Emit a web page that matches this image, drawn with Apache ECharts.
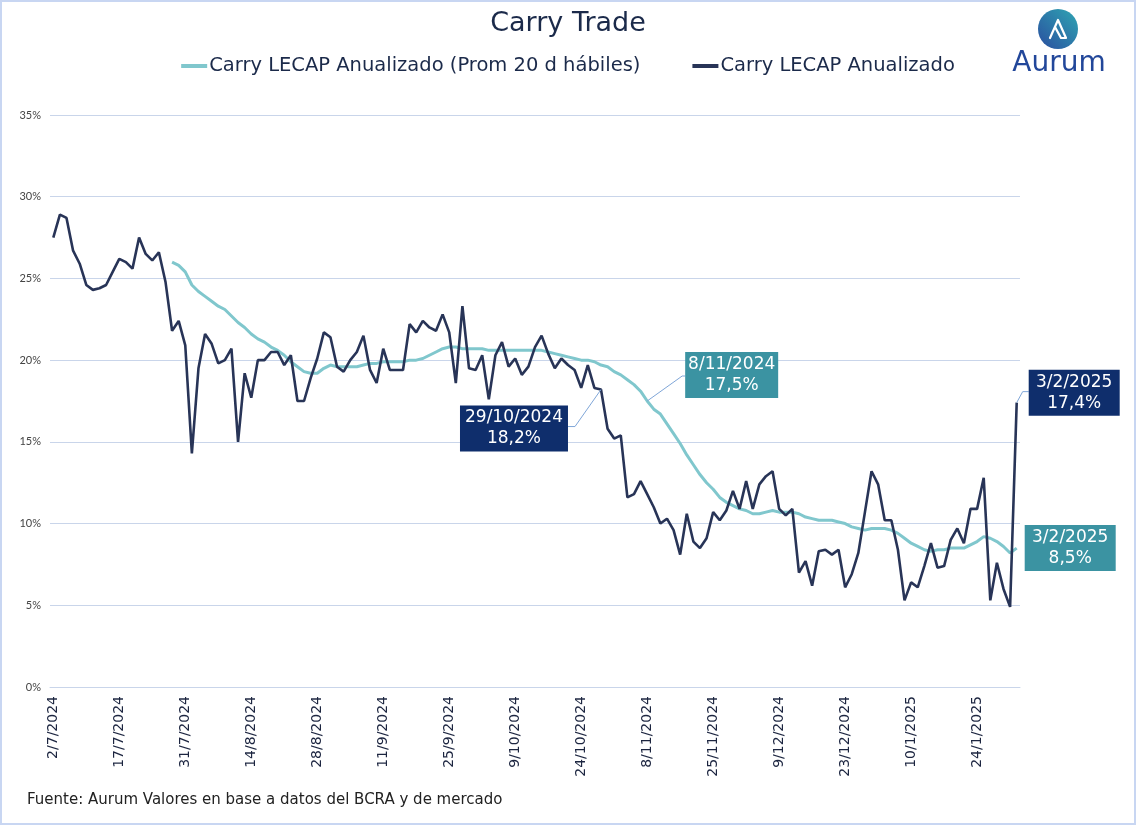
<!DOCTYPE html>
<html>
<head>
<meta charset="utf-8">
<script src="https://cdn.jsdelivr.net/npm/echarts@6/dist/echarts.min.js"></script>
<style>
html,body{margin:0;padding:0;background:#fff;}
#chart{width:1136px;height:825px;}
</style>
</head>
<body>
<div id="chart"></div>
<script>
// ---- data ----
const dates = [
 "2/7/2024","3/7/2024","4/7/2024","5/7/2024","8/7/2024","10/7/2024","11/7/2024","12/7/2024","15/7/2024","16/7/2024",
 "17/7/2024","18/7/2024","19/7/2024","22/7/2024","23/7/2024","24/7/2024","25/7/2024","26/7/2024","29/7/2024","30/7/2024",
 "31/7/2024","1/8/2024","2/8/2024","5/8/2024","6/8/2024","7/8/2024","8/8/2024","9/8/2024","12/8/2024","13/8/2024",
 "14/8/2024","15/8/2024","16/8/2024","19/8/2024","20/8/2024","21/8/2024","22/8/2024","23/8/2024","26/8/2024","27/8/2024",
 "28/8/2024","29/8/2024","30/8/2024","2/9/2024","3/9/2024","4/9/2024","5/9/2024","6/9/2024","9/9/2024","10/9/2024",
 "11/9/2024","12/9/2024","13/9/2024","16/9/2024","17/9/2024","18/9/2024","19/9/2024","20/9/2024","23/9/2024","24/9/2024",
 "25/9/2024","26/9/2024","27/9/2024","30/9/2024","1/10/2024","2/10/2024","3/10/2024","4/10/2024","7/10/2024","8/10/2024",
 "9/10/2024","10/10/2024","14/10/2024","15/10/2024","16/10/2024","17/10/2024","18/10/2024","21/10/2024","22/10/2024","23/10/2024",
 "24/10/2024","25/10/2024","28/10/2024","29/10/2024","30/10/2024","31/10/2024","4/11/2024","5/11/2024","6/11/2024","7/11/2024",
 "8/11/2024","11/11/2024","12/11/2024","13/11/2024","14/11/2024","15/11/2024","19/11/2024","20/11/2024","21/11/2024","22/11/2024",
 "25/11/2024","26/11/2024","27/11/2024","28/11/2024","29/11/2024","2/12/2024","3/12/2024","4/12/2024","5/12/2024","6/12/2024",
 "9/12/2024","10/12/2024","11/12/2024","12/12/2024","13/12/2024","16/12/2024","17/12/2024","18/12/2024","19/12/2024","20/12/2024",
 "23/12/2024","26/12/2024","27/12/2024","30/12/2024","2/1/2025","3/1/2025","6/1/2025","7/1/2025","8/1/2025","9/1/2025",
 "10/1/2025","13/1/2025","14/1/2025","15/1/2025","16/1/2025","17/1/2025","20/1/2025","21/1/2025","22/1/2025","23/1/2025",
 "24/1/2025","27/1/2025","28/1/2025","29/1/2025","30/1/2025","31/1/2025","3/2/2025"
];
const carry = [
 27.5,28.9,28.7,26.7,25.9,24.6,24.3,24.4,24.6,25.4,
 26.2,26.0,25.6,27.5,26.5,26.1,26.6,24.8,21.8,22.4,
 20.9,14.3,19.5,21.6,21.0,19.8,20.0,20.7,15.0,19.2,
 17.7,20.0,20.0,20.5,20.5,19.7,20.3,17.5,17.5,18.9,
 20.1,21.7,21.4,19.6,19.3,20.0,20.5,21.5,19.4,18.6,
 20.7,19.4,19.4,19.4,22.2,21.7,22.4,22.0,21.8,22.8,
 21.7,18.6,23.3,19.5,19.4,20.3,17.6,20.3,21.1,19.6,
 20.1,19.1,19.6,20.8,21.5,20.4,19.5,20.1,19.7,19.4,
 18.3,19.7,18.3,18.2,15.8,15.2,15.4,11.6,11.8,12.6,
 11.8,11.0,10.0,10.3,9.6,8.1,10.6,8.9,8.5,9.1,
 10.7,10.2,10.8,12.0,10.9,12.6,10.9,12.4,12.9,13.2,
 10.9,10.5,10.9,7.0,7.7,6.2,8.3,8.4,8.1,8.4,
 6.1,6.9,8.2,10.7,13.2,12.4,10.2,10.2,8.4,5.3,
 6.4,6.1,7.4,8.8,7.3,7.4,9.0,9.7,8.8,10.9,
 10.9,12.8,5.3,7.6,6.0,4.9,17.4
];
const carryAvg = [
 null,null,null,null,null,null,null,null,null,null,
 null,null,null,null,null,null,null,null,26.0,25.8,
 25.4,24.6,24.2,23.9,23.6,23.3,23.1,22.7,22.3,22.0,
 21.6,21.3,21.1,20.8,20.6,20.3,19.9,19.6,19.3,19.2,
 19.2,19.5,19.7,19.6,19.6,19.6,19.6,19.7,19.8,19.8,
 19.9,19.9,19.9,19.9,20.0,20.0,20.1,20.3,20.5,20.7,
 20.8,20.8,20.7,20.7,20.7,20.7,20.6,20.6,20.6,20.6,
 20.6,20.6,20.6,20.6,20.6,20.5,20.4,20.3,20.2,20.1,
 20.0,20.0,19.9,19.7,19.6,19.3,19.1,18.8,18.5,18.1,
 17.5,17.0,16.7,16.1,15.5,14.9,14.2,13.6,13.0,12.5,
 12.1,11.6,11.3,11.1,10.9,10.8,10.6,10.6,10.7,10.8,
 10.7,10.7,10.7,10.6,10.4,10.3,10.2,10.2,10.2,10.1,
 10.0,9.8,9.7,9.6,9.7,9.7,9.7,9.6,9.4,9.1,
 8.8,8.6,8.4,8.3,8.4,8.4,8.5,8.5,8.5,8.7,
 8.9,9.2,9.1,8.9,8.6,8.2,8.5
];
const seriesNames = ["Carry LECAP Anualizado (Prom 20 d hábiles)", "Carry LECAP Anualizado"];
const yTicks = [0, 35, 5]; // min, max, interval
// annotations: [seriesIndex, dataIndex, text]
const annSeries = [1, 0, 1, 0];
const annIndex = [83, 90, 146, 146];
const annText = ["29/10/2024\n18,2%", "8/11/2024\n17,5%", "3/2/2025\n17,4%", "3/2/2025\n8,5%"];

const FONT = "'DejaVu Sans', sans-serif";
const SMALLFONT = "Lato, sans-serif";
const NAVY = "#0f2e6c", TEAL = "#3b93a2", DARKLINE = "#283457", LIGHTLINE = "#80c7cd";

const chart = echarts.init(document.getElementById('chart'), null, {renderer: 'canvas'});
const option = {
  backgroundColor: '#fff',
  animation: false,
  textStyle: {fontFamily: FONT},
  title: {
    text: 'Carry Trade', left: 'center', top: 5,
    textStyle: {fontFamily: FONT, fontSize: 27, fontWeight: 'normal', color: '#1b2a4a'}
  },
  legend: {
    top: 51, left: 'center', itemGap: 52, itemWidth: 26, itemHeight: 4, icon: 'rect',
    textStyle: {fontFamily: FONT, fontSize: 19.5, color: '#1b2a4a', padding: [0,0,0,-3]},
    data: seriesNames
  },
  grid: {left: 50, right: 116, top: 115, bottom: 138, containLabel: false},
  xAxis: {
    type: 'category', data: dates, boundaryGap: true,
    axisLine: {show: true, lineStyle: {color: '#c9d5ea'}},
    axisTick: {show: false},
    axisLabel: {interval: 9, rotate: 90, fontSize: 14, color: '#1c2540', margin: 9, fontFamily: FONT},
    splitLine: {show: false}
  },
  yAxis: {
    type: 'value', min: yTicks[0], max: yTicks[1], interval: yTicks[2],
    axisLine: {show: false}, axisTick: {show: false},
    axisLabel: {formatter: '{value}%', fontSize: 11, color: '#444', margin: 9, fontFamily: SMALLFONT},
    splitLine: {lineStyle: {color: '#c9d5ea', width: 1}}
  },
  series: [
    {name: seriesNames[0], type: 'line', data: carryAvg, showSymbol: false, symbol: 'none',
     lineStyle: {color: LIGHTLINE, width: 3}, itemStyle: {color: LIGHTLINE}, z: 2},
    {name: seriesNames[1], type: 'line', data: carry, showSymbol: false, symbol: 'none',
     lineStyle: {color: DARKLINE, width: 2.6}, itemStyle: {color: DARKLINE}, z: 3}
  ]
};
chart.setOption(option);

// annotation boxes positioned relative to their data points
const boxOffsets = [
  {dx: -141, dy: 16, w: 108, lead: [[-26, 37], [-33, 37]]},
  {dx: 38, dy: -49, w: 93, lead: [[35, -25], [38, -25]]},
  {dx: 12, dy: -33, w: 91, lead: [[6, -11], [12, -11]]},
  {dx: 8, dy: -23, w: 91, lead: null}
];
const series = [carryAvg, carry];
const els = [];
annText.forEach((t, k) => {
  const s = annSeries[k], i = annIndex[k];
  const p = chart.convertToPixel({seriesIndex: s}, [i, series[s][i]]);
  const o = boxOffsets[k];
  const col = s === 1 ? NAVY : TEAL;
  if (o.lead) {
    els.push({type: 'polyline', silent: true, z: 10,
      shape: {points: [[p[0], p[1]], [p[0] + o.lead[0][0], p[1] + o.lead[0][1]], [p[0] + o.lead[1][0], p[1] + o.lead[1][1]]]},
      style: {stroke: '#7fa6d8', lineWidth: 1, fill: null}});
  }
  els.push({type: 'rect', silent: true, z: 11,
    shape: {x: p[0] + o.dx, y: p[1] + o.dy, width: o.w, height: 46},
    style: {fill: col}});
  els.push({type: 'text', silent: true, z: 12,
    x: p[0] + o.dx + o.w / 2, y: p[1] + o.dy + 23,
    style: {text: t, fill: '#fff', font: '17px ' + FONT, align: 'center', verticalAlign: 'middle', lineHeight: 21}});
});
// logo
els.push({type: 'circle', silent: true, shape: {cx: 1058, cy: 29, r: 20},
  style: {fill: new echarts.graphic.LinearGradient(1, 0, 0, 1, [{offset: 0, color: '#2fa6b3'}, {offset: 1, color: '#2a4e9f'}])}});
els.push({type: 'polyline', silent: true, shape: {points: [[1050, 38], [1058, 20], [1066, 38], [1061, 38], [1055, 27]]},
  style: {stroke: '#fff', lineWidth: 2.2, fill: null, lineJoin: 'round', lineCap: 'round'}});
els.push({type: 'text', silent: true, x: 1059, y: 64,
  style: {text: 'Aurum', fill: '#22479a', font: '28px ' + FONT, align: 'center', verticalAlign: 'middle'}});
// source
els.push({type: 'text', silent: true, x: 27, y: 800,
  style: {text: 'Fuente: Aurum Valores en base a datos del BCRA y de mercado', fill: '#222', font: '15px ' + FONT, align: 'left', verticalAlign: 'middle'}});
// frame
els.push({type: 'rect', silent: true, shape: {x: 1, y: 1, width: 1134, height: 823},
  style: {fill: null, stroke: '#c8d6f2', lineWidth: 2}});
chart.setOption({graphic: {elements: els}});
</script>
</body>
</html>
